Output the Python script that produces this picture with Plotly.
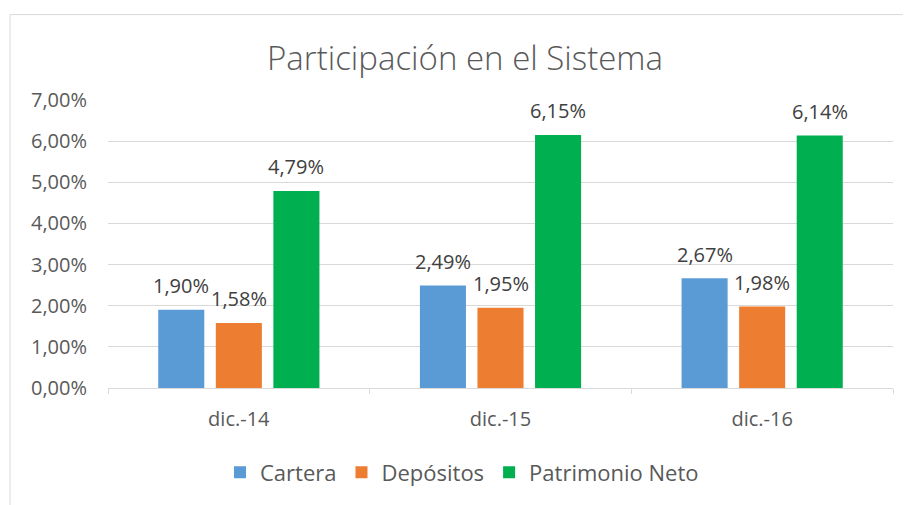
import plotly.graph_objects as go

categories = ["dic.-14", "dic.-15", "dic.-16"]
series_names = ["Cartera", "Depósitos", "Patrimonio Neto"]
cartera = [1.90, 2.49, 2.67]
depositos = [1.58, 1.95, 1.98]
patrimonio = [4.79, 6.15, 6.14]
y_ticks = [0, 1, 2, 3, 4, 5, 6, 7]
colors = ["#5B9BD5", "#ED7D31", "#00B050"]

FONT = "Open Sans"
OFF = 8  # page body margin
W, H = 911 - OFF, 505 - OFF
ML, MR, MT = 108 - OFF, 18, 100 - OFF
PW = W - ML - MR
PH = 290
MB = H - MT - PH


def fmt(v):
    return f"{v:.2f}".replace(".", ",") + "%"


fig = go.Figure()
all_series = [cartera, depositos, patrimonio]
for name, vals, col in zip(series_names, all_series, colors):
    fig.add_trace(go.Bar(x=categories, y=vals, name=name, marker_color=col,
                         marker_line_width=0, hoverinfo="skip"))

bargap = 0.34
bargroupgap = 0.2
cat_w = PW / len(categories)
slot = cat_w * (1 - bargap) / 3
for i, vals in enumerate(all_series):
    for c, v in zip(categories, vals):
        fig.add_annotation(x=c, y=v, text=fmt(v), showarrow=False,
                           xshift=(i - 1) * slot, yshift=24, yanchor="middle",
                           font=dict(family=FONT, size=20, color="#404040"))


def px_x(p):
    return (p - OFF - ML) / PW


def px_y(p):
    return (MT + PH - (p - OFF)) / PH


fig.add_shape(type="rect", xref="paper", yref="paper",
              x0=px_x(10), x1=px_x(918),
              y0=px_y(520), y1=px_y(14),
              line=dict(color="#D9D9D9", width=1), fillcolor="rgba(0,0,0,0)",
              layer="below")

fig.update_layout(
    width=W, height=H,
    margin=dict(l=ML, r=MR, t=MT, b=MB),
    paper_bgcolor="white", plot_bgcolor="white",
    barmode="group", bargap=bargap, bargroupgap=bargroupgap,
    title=dict(text="Participación en el Sistema", x=(465 - OFF) / W, xanchor="center",
               y=1 - (58 - OFF) / H, yanchor="middle", yref="container",
               font=dict(family=FONT, size=33, color="#595959", weight=300)),
    font=dict(family=FONT, color="#595959"),
    showlegend=True,
    legend=dict(orientation="h", x=px_x(462), xanchor="center",
                y=px_y(475), yanchor="middle",
                font=dict(family=FONT, size=22, color="#595959"),
                traceorder="normal"),
    xaxis=dict(showline=True, linecolor="#D9D9D9", linewidth=1,
               ticks="outside", tickson="boundaries", tickcolor="#D9D9D9",
               ticklen=5, showgrid=False,
               tickfont=dict(family=FONT, size=20, color="#595959"),
               ticklabelstandoff=13),
    yaxis=dict(range=[0, 7], tickvals=y_ticks,
               ticktext=[fmt(t) for t in y_ticks],
               showgrid=True, gridcolor="#D9D9D9", gridwidth=1, zeroline=False,
               showline=False, ticks="",
               tickfont=dict(family=FONT, size=20, color="#595959"),
               ticklabelstandoff=20),
)

fig.write_html("out.html")
